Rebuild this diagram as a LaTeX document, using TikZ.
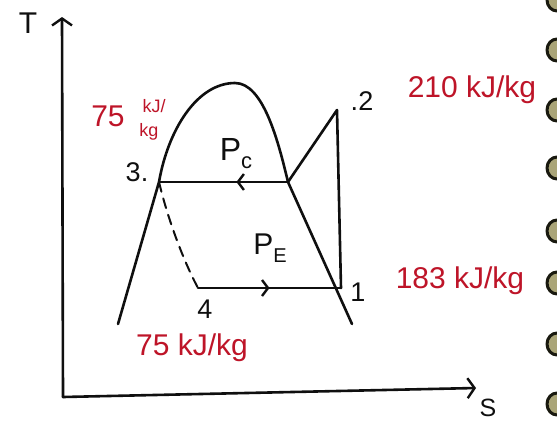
\documentclass[tikz,border=0pt]{standalone}
\usepackage{fontspec}
\setmainfont{Liberation Sans}
\usetikzlibrary{arrows.meta,decorations.markings}
\definecolor{ink}{RGB}{15,15,15}
\definecolor{redink}{RGB}{190,20,40}
\definecolor{ringfill}{RGB}{170,165,120}
\definecolor{ringedge}{RGB}{25,25,15}
\begin{document}
\begin{tikzpicture}[x=1pt,y=-1pt, line cap=round, line join=round,
  curve/.style={draw=ink, line width=2.6pt},
  lbl/.style={text=ink, font=\fontsize{27}{27}\selectfont, inner sep=0pt},
  val/.style={text=redink, inner sep=0pt, font=\fontsize{30}{30}\selectfont},
  midarrow/.style={postaction={decorate}, decoration={markings, mark=at position #1 with {\arrow{Straight Barb[length=6pt,width=16pt,line width=2.4pt]}}}},
  axistip/.style={-{Straight Barb[length=7pt,width=20pt,line width=2.4pt]}},
  ring/.style={draw=ringedge, line width=3pt, fill=ringfill}
]
\useasboundingbox (0,0) rectangle (557,423);
\fill[white] (0,0) rectangle (557,423);

% binding rings
\foreach \yy in {0,50,110,168,231,283,344,404}
  \draw[ring] (557,\yy) ellipse (10 and 11);

% key points
\coordinate (O) at (63,397);
\coordinate (Ttip) at (62,17);
\coordinate (Stip) at (476,388);
\coordinate (p3) at (159,182);
\coordinate (pk) at (288,182);
\coordinate (p2) at (337,110);
\coordinate (p1) at (341,288);
\coordinate (p4) at (198,288);
\coordinate (top) at (235,83);
\coordinate (dL) at (118,324);
\coordinate (dR) at (352,324);

% axes
\draw[curve, axistip] (O) -- (Ttip);
\draw[curve, axistip] (O) -- (Stip);

% saturation dome
\draw[curve] (dL) -- (p3) .. controls (168,130) and (197,83) .. (top)
  .. controls (263,83) and (278,140) .. (pk) -- (dR);

% cycle
\draw[curve] (pk) -- (p2) -- (p1);
\draw[curve, midarrow=0.4] (pk) -- (p3);
\draw[curve, midarrow=0.5] (p4) -- (p1);
\draw[curve, line width=2pt, dash pattern=on 10pt off 7pt] (p3) .. controls (168,220) and (184,262) .. (p4);

% labels
\node[lbl, font=\fontsize{30}{30}\selectfont] (lT) at (28,23) {T};
\node[lbl, font=\fontsize{25}{25}\selectfont] (lS) at (488,408) {S};
\node[lbl] (l3) at (137,172) {3.};
\node[lbl] (l2) at (362,101) {.2};
\node[lbl] (l1) at (358,292) {1};
\node[lbl] (l4) at (205,309) {4};
\node[lbl, font=\fontsize{32}{32}\selectfont] (lPc) at (236,154) {P\raisebox{-0.25em}{\fontsize{22}{22}\selectfont c}};
\node[lbl, font=\fontsize{30}{30}\selectfont] (lPe) at (270,248) {P\raisebox{-0.25em}{\fontsize{20}{20}\selectfont E}};

% values
\node[val] (v2) at (472,90) {210 kJ/kg};
\node[val] (v1) at (460,281) {183 kJ/kg};
\node[val] (v4) at (192,348) {75 kJ/kg};
\node[val, font=\fontsize{30}{30}\selectfont] (v3a) at (108,116) {75};
\node[val, font=\fontsize{18}{18}\selectfont] (v3b) at (154,106) {kJ/};
\node[val, font=\fontsize{18}{18}\selectfont] (v3c) at (149,132) {kg};
\end{tikzpicture}
\end{document}
